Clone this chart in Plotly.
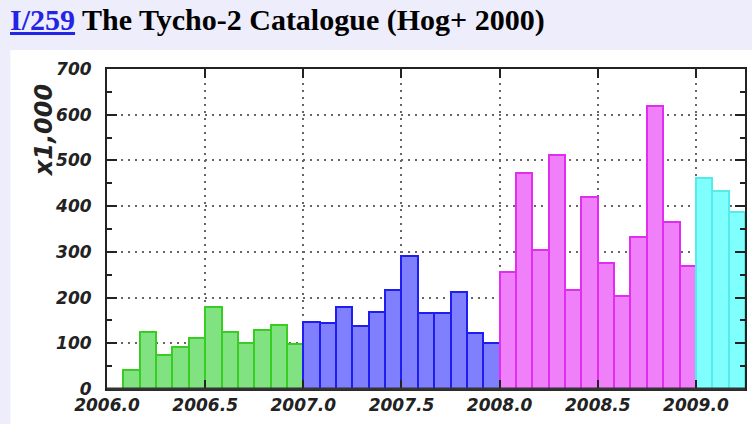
import plotly.graph_objects as go

# ---- data (monthly counts, in thousands) ----
months_2006 = ["2006-02", "2006-03", "2006-04", "2006-05", "2006-06", "2006-07",
               "2006-08", "2006-09", "2006-10", "2006-11", "2006-12"]
values_2006 = [42, 125, 75, 92, 112, 179, 125, 100, 130, 141, 99]

months_2007 = ["2007-01", "2007-02", "2007-03", "2007-04", "2007-05", "2007-06",
               "2007-07", "2007-08", "2007-09", "2007-10", "2007-11", "2007-12"]
values_2007 = [147, 144, 180, 138, 168, 217, 292, 167, 167, 213, 122, 101]

months_2008 = ["2008-01", "2008-02", "2008-03", "2008-04", "2008-05", "2008-06",
               "2008-07", "2008-08", "2008-09", "2008-10", "2008-11", "2008-12"]
values_2008 = [255, 473, 303, 511, 217, 420, 275, 203, 333, 618, 366, 270]

months_2009 = ["2009-01", "2009-02", "2009-03"]
values_2009 = [462, 433, 388]

x_ticks = [2006.0, 2006.5, 2007.0, 2007.5, 2008.0, 2008.5, 2009.0]
x_tick_labels = ["2006.0", "2006.5", "2007.0", "2007.5", "2008.0", "2008.5", "2009.0"]
y_ticks = [0, 100, 200, 300, 400, 500, 600, 700]

title_link = "I/259"
title_text = "The Tycho-2 Catalogue (Hog+ 2000)"
y_title = "x1,000"


def to_decimal(months):
    out = []
    for m in months:
        y, mo = m.split("-")
        out.append(int(y) + (int(mo) - 0.5) / 12.0)
    return out


series = [
    (months_2006, values_2006, "rgb(128,226,128)", "rgb(55,205,35)"),
    (months_2007, values_2007, "rgb(128,128,255)", "rgb(30,30,240)"),
    (months_2008, values_2008, "rgb(240,128,250)", "rgb(225,45,240)"),
    (months_2009, values_2009, "rgb(128,255,255)", "rgb(85,235,235)"),
]

fig = go.Figure()
for months, vals, fill, edge in series:
    fig.add_trace(go.Bar(
        x=to_decimal(months), y=vals, width=1.0 / 12.0,
        marker=dict(color=fill, line=dict(color=edge, width=2)),
        showlegend=False,
    ))

W, H = 752, 424
L, R, T, B = 107, 5, 69, 35
pw, ph = W - L - R, H - T - B


def px_x(px):
    return (px - L) / pw


def px_y(py):
    return (H - B - py) / ph


tick_font = dict(family="DejaVu Sans", size=17, color="#222222", style="italic", weight="bold")

fig.update_layout(
    width=W, height=H,
    margin=dict(l=L, r=R, t=T, b=B, pad=0),
    paper_bgcolor="rgb(237,237,251)",
    plot_bgcolor="white",
    bargap=0,
    barmode="overlay",
    xaxis=dict(
        range=[2006.0, 2009.25],
        tickmode="array", tickvals=x_ticks, ticktext=x_tick_labels,
        ticks="inside", ticklen=9, tickwidth=2, tickcolor="#222",
        showline=True, linewidth=2, linecolor="#222", mirror="allticks",
        showgrid=True, gridcolor="#666", gridwidth=1.5, griddash="2px,5px",
        zeroline=False, tickfont=tick_font, ticklabelstandoff=0,
    ),
    yaxis=dict(
        range=[0, 700],
        tickmode="array", tickvals=y_ticks,
        ticks="inside", ticklen=10, tickwidth=2, tickcolor="#222",
        minor=dict(dtick=50, ticks="inside", ticklen=5, tickwidth=2, tickcolor="#222", showgrid=False),
        showline=True, linewidth=2, linecolor="#222", mirror="allticks",
        showgrid=True, gridcolor="#666", gridwidth=1.5, griddash="2px,5px",
        zeroline=False, tickfont=tick_font, ticklabelstandoff=10,
    ),
    shapes=[
        dict(
            type="rect", xref="paper", yref="paper", layer="below",
            x0=px_x(10), x1=px_x(760), y0=px_y(430), y1=px_y(50),
            fillcolor="white", line=dict(width=0),
        ),
        dict(
            type="line", xref="paper", yref="paper", layer="above",
            x0=0, x1=1, y0=0, y1=0,
            line=dict(color="#333", width=3),
        ),
    ],
    annotations=[
        dict(
            xref="paper", yref="paper", x=px_x(8), y=px_y(20),
            xanchor="left", yanchor="middle", showarrow=False,
            text=("<span style='color:#2424e6'><u>" + title_link + "</u></span> "
                  + title_text),
            font=dict(family="Liberation Serif", size=30, color="black", weight="bold"),
        ),
        dict(
            xref="paper", yref="paper", x=px_x(44), y=px_y(130),
            xanchor="center", yanchor="middle", showarrow=False, textangle=-90,
            text=y_title,
            font=dict(family="DejaVu Sans", size=24, color="#222222", style="italic", weight="bold"),
        ),
    ],
)

fig.write_html("out.html")
